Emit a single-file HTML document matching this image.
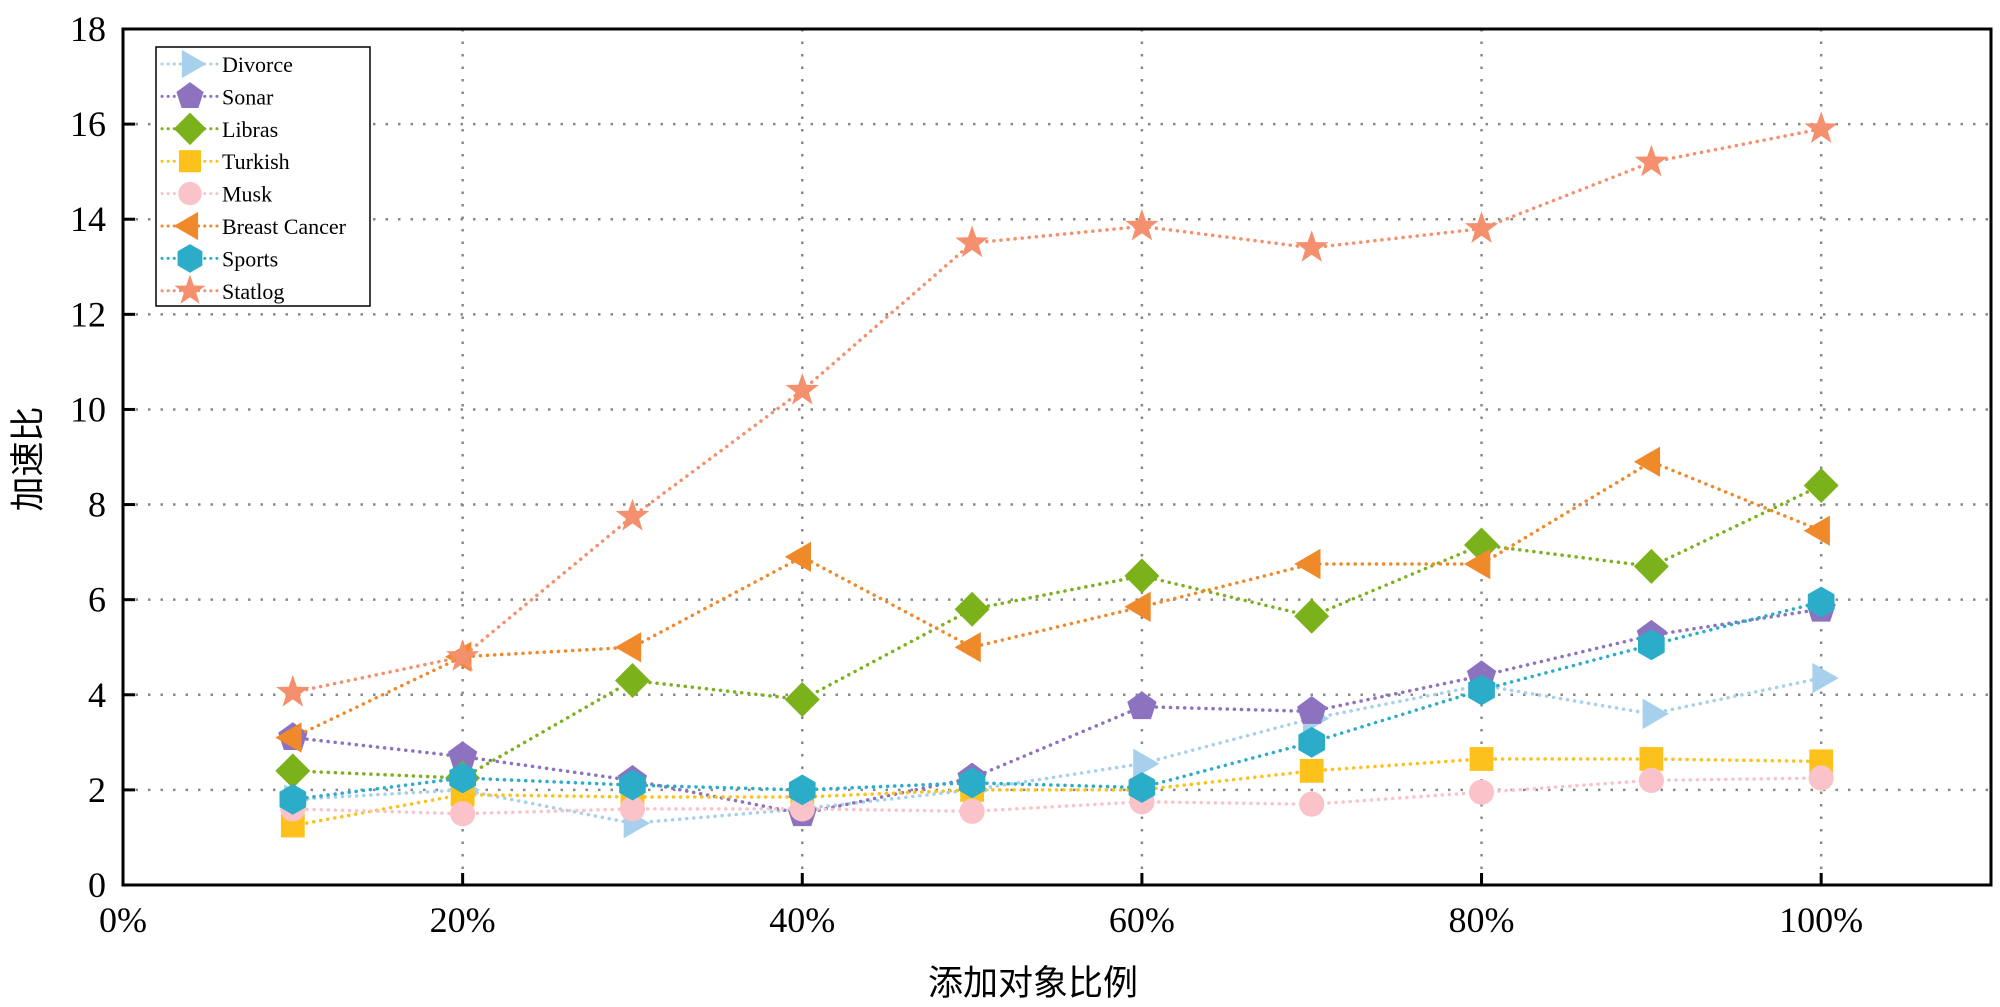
<!DOCTYPE html>
<html><head><meta charset="utf-8">
<style>
body{margin:0;background:#fff;}
svg{display:block;font-family:"Liberation Serif","Noto Serif CJK SC",serif;}
</style></head>
<body>
<svg id="chart" width="2000" height="1007" viewBox="0 0 2000 1007" xmlns="http://www.w3.org/2000/svg">
<g id="grid"></g>
<g id="series"></g>
<rect x="123" y="29" width="1868" height="856" fill="none" stroke="#000" stroke-width="3"/>
<g id="axes"></g>
<text transform="translate(40,459) rotate(-90)" text-anchor="middle" font-size="35" font-family="'Noto Sans CJK SC',sans-serif">加速比</text>
<text x="1033" y="995" text-anchor="middle" font-size="35" font-family="'Noto Sans CJK SC',sans-serif">添加对象比例</text>
<g id="legend"></g>
</svg>
<script>
const categories = [10,20,30,40,50,60,70,80,90,100];
const seriesNames = ["Divorce","Sonar","Libras","Turkish","Musk","Breast Cancer","Sports","Statlog"];
const divorce = [1.8,2.0,1.3,1.6,2.0,2.55,3.5,4.2,3.6,4.35];
const sonar = [3.1,2.7,2.2,1.5,2.25,3.75,3.65,4.4,5.25,5.8];
const libras = [2.4,2.25,4.3,3.9,5.8,6.5,5.65,7.15,6.7,8.4];
const turkish = [1.25,1.9,1.85,1.85,2.0,2.0,2.4,2.65,2.65,2.6];
const musk = [1.6,1.5,1.6,1.6,1.55,1.75,1.7,1.95,2.2,2.25];
const breastCancer = [3.1,4.8,5.0,6.9,5.0,5.85,6.75,6.75,8.9,7.45];
const sports = [1.8,2.25,2.1,2.0,2.15,2.05,3.0,4.1,5.05,5.95];
const statlog = [4.05,4.8,7.75,10.4,13.5,13.85,13.4,13.8,15.2,15.9];
const xTicks = [0,20,40,60,80,100];
const yTicks = [0,2,4,6,8,10,12,14,16,18];

const NS="http://www.w3.org/2000/svg";
const L=123,R=1991,T=29,B=885;
const xs=v=>L+(v/110)*(R-L);
const ys=v=>B-(v/18)*(B-T);
function el(tag,attrs,parent){const e=document.createElementNS(NS,tag);for(const k in attrs)e.setAttribute(k,attrs[k]);parent.appendChild(e);return e;}
const grid=document.getElementById('grid'),axes=document.getElementById('axes'),ser=document.getElementById('series'),leg=document.getElementById('legend');

xTicks.forEach(t=>{
  if(t>0){const g=el('line',{x1:xs(t),x2:xs(t),y1:T,y2:B,stroke:'#888','stroke-width':2.5,'stroke-dasharray':'2.5 10'},grid);
  
  }
  const tk=el('line',{x1:xs(t),x2:xs(t),y1:B,y2:B-12,stroke:'#000','stroke-width':3},axes);
  
  
  const tx=el('text',{x:xs(t),y:932,'text-anchor':'middle','font-size':36},axes);
  tx.textContent=t+'%';
  
  
});
yTicks.forEach(t=>{
  if(t>0&&t<18){const g=el('line',{x1:L,x2:R,y1:ys(t),y2:ys(t),stroke:'#888','stroke-width':2.5,'stroke-dasharray':'2.5 10'},grid);
  
  }
  const tk=el('line',{x1:L,x2:L+12,y1:ys(t),y2:ys(t),stroke:'#000','stroke-width':3},axes);
  
  
  const tx=el('text',{x:106,y:ys(t)+12,'text-anchor':'end','font-size':36},axes);
  tx.textContent=t;
  
  
});

const data=[divorce,sonar,libras,turkish,musk,breastCancer,sports,statlog];
const colors=["#a6d0ec","#8c72bf","#7bb21c","#fcc21b","#f9c3c9","#f0892a","#2badc9","#f4906e"];
const shapes=["tri-right","pentagon","diamond","square","circle","tri-left","hexagon","star"];
function poly(cx,cy,n,r,rot){let p=[];for(let i=0;i<n;i++){const a=rot+i*2*Math.PI/n;p.push((cx+r*Math.cos(a)).toFixed(1)+','+(cy+r*Math.sin(a)).toFixed(1));}return p.join(' ');}
function marker(shape,cx,cy,s,color,parent){
  let m;
  if(shape==='circle') m=el('circle',{cx:cx,cy:cy,r:s*0.9},parent);
  else if(shape==='square') m=el('rect',{x:cx-s*0.85,y:cy-s*0.85,width:s*1.7,height:s*1.7},parent);
  else if(shape==='diamond') m=el('polygon',{points:poly(cx,cy,4,s*1.25,-Math.PI/2)},parent);
  else if(shape==='tri-right') m=el('polygon',{points:poly(cx,cy,3,s*1.25,0)},parent);
  else if(shape==='tri-left') m=el('polygon',{points:poly(cx,cy,3,s*1.25,Math.PI)},parent);
  else if(shape==='pentagon') m=el('polygon',{points:poly(cx,cy,5,s*1.1,-Math.PI/2)},parent);
  else if(shape==='hexagon') m=el('polygon',{points:poly(cx,cy,6,s*1.1,-Math.PI/2)},parent);
  else { let p=[];for(let i=0;i<10;i++){const a=-Math.PI/2+i*Math.PI/5;const r=i%2?s*0.5:s*1.25;p.push((cx+r*Math.cos(a)).toFixed(1)+','+(cy+r*Math.sin(a)).toFixed(1));}
    m=el('polygon',{points:p.join(' ')},parent);}
  m.setAttribute('fill',color);
  return m;
}
data.forEach((vals,si)=>{
  const g=el('g',{},ser);
  
  
  const pts=vals.map((v,i)=>xs(categories[i]).toFixed(1)+','+ys(v).toFixed(1)).join(' ');
  const pl=el('polyline',{points:pts,fill:'none',stroke:colors[si],'stroke-width':3.5,'stroke-dasharray':'0.1 7','stroke-linecap':'round'},g);
  
  
  vals.forEach((v,i)=>{
    const m=marker(shapes[si],xs(categories[i]),ys(v),14,colors[si],g);
    
    
  });
});

const lb=el('rect',{x:156,y:47,width:214,height:259,fill:'#fff',stroke:'#000','stroke-width':1.5},leg);


seriesNames.forEach((n,i)=>{
  const y=64+i*32.4;
  const g=el('g',{},leg);
  
  
  const ln=el('line',{x1:162,x2:218,y1:y,y2:y,stroke:colors[i],'stroke-width':3,'stroke-dasharray':'0.1 6','stroke-linecap':'round'},g);
  
  
  const m=marker(shapes[i],190,y,13,colors[i],g);
  
  
  const t=el('text',{x:222,y:y+8,'font-size':22},g);
  t.textContent=n;
  
  
});
</script>
</body></html>
